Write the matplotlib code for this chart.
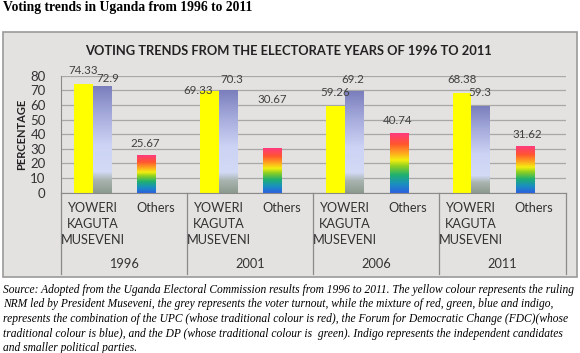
import numpy as np
import matplotlib.pyplot as plt
from matplotlib.patches import Rectangle
from matplotlib.colors import LinearSegmentedColormap
import matplotlib.transforms as mtransforms

# Data
years = ['1996', '2001', '2006', '2011']
cat_names = ['YOWERI\nKAGUTA\nMUSEVENI', 'Others']
museveni = [74.33, 69.33, 59.26, 68.38]
others = [25.67, 30.67, 40.74, 31.62]
turnout = [72.9, 70.3, 69.2, 59.3]

caption_lines = [
    "Source: Adopted from the Uganda Electoral Commission results from 1996 to 2011. The yellow colour represents the ruling",
    "NRM led by President Museveni, the grey represents the voter turnout, while the mixture of red, green, blue and indigo,",
    "represents the combination of the UPC (whose traditional colour is red), the Forum for Democratic Change (FDC)(whose",
    "traditional colour is blue), and the DP (whose traditional colour is  green). Indigo represents the independent candidates",
    "and smaller political parties.",
]

W, H = 580, 353
fig = plt.figure(figsize=(W / 100, H / 100), dpi=100)

def fx(px):
    return px / W

def fy(py):
    return 1 - py / H

# grey chart box
fig.patches.append(Rectangle((fx(3), fy(277)), fx(574), 245 / H, transform=fig.transFigure,
                             facecolor='#e3e2e0', edgecolor='#9a9a9a', lw=1.2, zorder=-10))

ax = fig.add_axes([fx(61), fy(192.7), fx(565.5 - 61), (192.7 - 75.7) / H])
ax.set_facecolor('none')

# first series: museveni / others in each year, second: turnout (only next to museveni)
pos = np.arange(8)
s1 = []
s2 = []
for i in range(4):
    s1 += [museveni[i], others[i]]
    s2 += [turnout[i], 0]
bw = 0.29
bars1 = ax.bar(pos - bw / 2, s1, bw, color='#ffff00', zorder=2, lw=0)
bars2 = ax.bar(pos + bw / 2, s2, bw, color='none', zorder=2, lw=0)

rainbow = LinearSegmentedColormap.from_list('rb', [
    (0.0, '#2a5fe0'), (0.15, '#1a90c0'), (0.3, '#20b070'), (0.45, '#90d020'),
    (0.55, '#f4ee10'), (0.68, '#ffa020'), (0.82, '#ff5530'), (1.0, '#ff3a80')])
slate = LinearSegmentedColormap.from_list('sl', [
    (0.0, '#8c9a8e'), (0.12, '#a9b4b0'), (0.2, '#d2daf6'), (0.45, '#ccd3f4'),
    (0.75, '#a3a8da'), (1.0, '#7a7ebc')])
grad = np.linspace(0, 1, 256).reshape(-1, 1)

for j, b in enumerate(bars1):
    if j % 2 == 1:
        b.set_facecolor('none')
        x0, h = b.get_x(), b.get_height()
        ax.imshow(grad, cmap=rainbow, origin='lower', aspect='auto', zorder=2,
                  extent=(x0, x0 + b.get_width(), 0, h))
for j, b in enumerate(bars2):
    h = b.get_height()
    if h > 0:
        x0 = b.get_x()
        ax.imshow(grad, cmap=slate, origin='lower', aspect='auto', zorder=2,
                  extent=(x0, x0 + b.get_width(), 0, h))

# data labels (offsets in points, nudged like the original)
nudge1 = [(0, 9.4), (-1, 8.6), (-8, 0.5), (0, 34.5), (0, 9.4), (-1, 9.4), (0, 9.4), (1.5, 8.6)]
nudge2 = [(4.5, 5.5), (3, 7.2), (-1, 8.6), (0, 9.4)]
k = 0
for j, b in enumerate(bars1):
    ax.annotate(f'{s1[j]:g}', (b.get_x() + b.get_width() / 2, b.get_height()),
                xytext=nudge1[j], textcoords='offset points', ha='center', va='center',
                fontsize=8.3, color='#404040', family='Lato', zorder=4)
for j, b in enumerate(bars2):
    if b.get_height() > 0:
        ax.annotate(f'{s2[j]:g}', (b.get_x() + b.get_width() / 2, b.get_height()),
                    xytext=nudge2[k], textcoords='offset points', ha='center', va='center',
                    fontsize=8.3, color='#404040', family='Lato', zorder=4)
        k += 1

ax.set_xlim(-0.5, 7.5)
ax.set_ylim(0, 80)
ax.set_yticks(range(0, 81, 10))
ax.yaxis.grid(True, color='#a8a8a8', lw=0.9)
ax.set_axisbelow(True)
for s in ['top', 'right']:
    ax.spines[s].set_visible(False)
ax.spines['left'].set_color('#8a8a8a')
ax.spines['bottom'].set_color('#8a8a8a')
ax.tick_params(axis='y', length=0, labelsize=9.5, labelcolor='#333333', pad=11)
for t in ax.get_yticklabels():
    t.set_family('Lato')
ax.set_xticks([])
ax.set_ylabel('PERCENTAGE', fontsize=8, fontweight='bold', family='Lato', color='#222222',
              labelpad=2)

# multi-level category axis
trans = mtransforms.blended_transform_factory(ax.transData, ax.transAxes)
ah = 192.7 - 75.7
for g in range(5):
    ax.plot([2 * g - 0.5] * 2, [0, -(274 - 192.7) / ah], transform=trans, clip_on=False,
            color='#8a8a8a', lw=0.9)
for j in range(8):
    ax.text(pos[j], -(202.5 - 192.7) / ah, cat_names[j % 2], transform=trans, ha='center', va='top',
            fontsize=9.2, family='Lato', color='#333333', linespacing=1.4)
for g in range(4):
    ax.text(2 * g + 0.5, -(264 - 192.7) / ah, years[g], transform=trans, ha='center', va='center',
            fontsize=9.2, family='Lato', color='#333333')

fig.text(fx(288.5), fy(51), 'VOTING TRENDS FROM THE ELECTORATE YEARS OF 1996 TO 2011',
         ha='center', va='center', fontsize=9.3, fontweight='bold', family='Lato', color='#222222')
fig.text(fx(3), fy(7), 'Voting trends in Uganda from 1996 to 2011', ha='left', va='center',
         fontsize=9.8, fontweight='bold', family='Liberation Serif')

for i, line in enumerate(caption_lines):
    fig.text(fx(3), fy(290 + i * 14.5), line, ha='left', va='center', fontsize=8.3,
             style='italic', family='Liberation Serif')

fig.savefig('out.png', dpi=100)
